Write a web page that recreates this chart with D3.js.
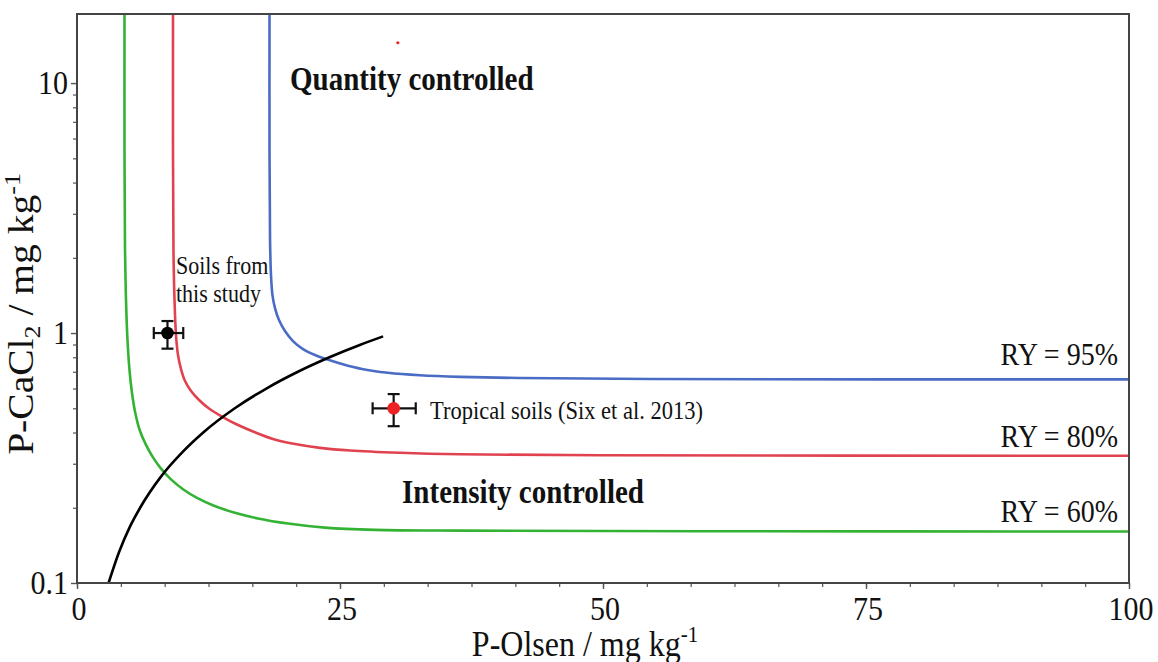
<!DOCTYPE html>
<html><head><meta charset="utf-8">
<script src="https://cdn.jsdelivr.net/npm/d3@7"></script>
<style>html,body{margin:0;padding:0;background:#fff;} svg{display:block;}</style>
</head><body>
<svg id="chart" width="1158" height="662"></svg>
<script>
// ---------- data ----------
const xTicks = [0, 25, 50, 75, 100];
const xTickLabels = ["0", "25", "50", "75", "100"];
const yTicks = [0.1, 1, 10];
const yTickLabels = ["0.1", "1", "10"];

// RY iso-lines: [P-Olsen, P-CaCl2]
const ry95 = [[18.3,18.9],[18.3,5.395],[18.35,2.355],[18.44,1.706],[18.58,1.419],[18.82,1.259],[19.2,1.127],[19.77,1.019],[20.53,0.929],[21.48,0.863],[22.62,0.817],[23.67,0.787],[25.19,0.7516],[27.09,0.7178],[29.56,0.6932],[32.6,0.6775],[36.41,0.6676],[42.1,0.6607],[54.47,0.6546],[100,0.6528]];
const ry80 = [[9.125,18.9],[9.125,5.395],[9.17,2.148],[9.27,1.355],[9.41,0.982],[9.60,0.817],[9.886,0.7178],[10.27,0.6427],[10.84,0.5861],[11.6,0.5395],[12.55,0.4989],[13.78,0.4634],[15.11,0.4325],[16.73,0.4036],[18.63,0.3767],[20.72,0.3597],[23.1,0.3473],[25.95,0.3388],[30.7,0.3318],[36.41,0.3272],[49.7,0.3242],[100,0.3230]];
const ry60 = [[4.515,18.9],[4.515,5.395],[4.563,2.148],[4.658,1.355],[4.800,0.9376],[4.990,0.7112],[5.228,0.5754],[5.561,0.4742],[5.989,0.4055],[6.559,0.3571],[7.224,0.3180],[7.985,0.2869],[8.935,0.2597],[10.076,0.2372],[11.407,0.2190],[13.023,0.2038],[14.924,0.1914],[17.205,0.1813],[20.057,0.1730],[23.574,0.1666],[28.327,0.1632],[36.407,0.1620],[59.221,0.1611],[100,0.1607]];
const boundary = [[3,0.1],[4,0.133],[5,0.167],[6,0.2],[8,0.267],[10,0.333],[12,0.4],[15,0.5],[18,0.6],[21,0.7],[24,0.8],[27,0.9],[29.1,0.97]];

const seriesNames = ["RY = 95%", "RY = 80%", "RY = 60%"];
const seriesColors = ["#4a6cc4", "#e0434f", "#33b233"];
const seriesData = [ry95, ry80, ry60];
const seriesLabelPos = [[98.95, 0.745], [98.95, 0.35], [98.95, 0.175]];

// points with error bars
const pointNames = ["Soils from this study", "Tropical soils (Six et al. 2013)"];
const pointX = [8.6, 30.1];
const pointY = [1.0, 0.50];
const pointXLow = [7.3, 28.1];
const pointXHigh = [10.1, 32.2];
const pointYLow = [0.866, 0.424];
const pointYHigh = [1.117, 0.570];
const pointColors = ["#000000", "#ee2222"];
const strayDot = [30.5, 14.5];

// annotations [text, x, y(baseline)]
const regionLabels = [["Quantity controlled", 20.25, 9.38], ["Intensity controlled", 30.9, 0.209]];
const noteLabels = [["Soils from", 9.41, 1.72], ["this study", 9.41, 1.33], ["Tropical soils (Six et al. 2013)", 33.56, 0.453]];

// ---------- drawing ----------
const L = 77, R = 1129, T = 14, B = 583;
const S = 1.13; // vertical stretch of the glyphs
const FONT = "'Liberation Serif','Times New Roman',serif";

const svg = d3.select("#chart");
const x = d3.scaleLinear().domain([0, 100]).range([L, R]);
const y = d3.scaleLog().domain([0.1, 18.9]).range([B, T]);

svg.append("defs").append("clipPath").attr("id", "clip")
  .append("rect").attr("x", L).attr("y", T).attr("width", R - L).attr("height", B - T);

function sText(px, py, str, size, opts = {}) {
  const g = svg.append("g").attr("transform", `translate(${px},${py}) scale(1,${S})${opts.rotate ? " rotate(-90)" : ""}`);
  const t = g.append("text")
    .attr("font-family", FONT)
    .attr("font-size", size)
    .attr("font-weight", opts.bold ? "bold" : "normal")
    .attr("text-anchor", opts.anchor || "start")
    .attr("fill", "#111");
  if (str !== null) t.text(str);
  return t;
}

// axes ticks
const xMinor = d3.range(0, 100.001, 25 / 6);
svg.append("g").attr("transform", `translate(0,${B})`)
  .call(d3.axisBottom(x).tickValues(xMinor).tickSize(4).tickFormat(""))
  .call(g => { g.select(".domain").remove(); g.selectAll("line").attr("stroke", "#555").attr("stroke-width", 1.2); });
svg.append("g").attr("transform", `translate(0,${B})`)
  .call(d3.axisBottom(x).tickValues(xTicks).tickSize(6).tickFormat(""))
  .call(g => { g.select(".domain").remove(); g.selectAll("line").attr("stroke", "#555").attr("stroke-width", 1.4); });

const yMinor = y.ticks().filter(v => yTicks.indexOf(v) < 0);
svg.append("g").attr("transform", `translate(${L},0)`)
  .call(d3.axisLeft(y).tickValues(yMinor).tickSize(4).tickFormat(""))
  .call(g => { g.select(".domain").remove(); g.selectAll("line").attr("stroke", "#555").attr("stroke-width", 1.2); });
svg.append("g").attr("transform", `translate(${L},0)`)
  .call(d3.axisLeft(y).tickValues(yTicks).tickSize(6).tickFormat(""))
  .call(g => { g.select(".domain").remove(); g.selectAll("line").attr("stroke", "#555").attr("stroke-width", 1.4); });

// tick labels
xTicks.forEach((v, i) => sText(x(v) + 2, B + 37, xTickLabels[i], 30, { anchor: "middle" }));
yTicks.forEach((v, i) => sText(L - 9, y(v) + 11, yTickLabels[i], 30, { anchor: "end" }));

// axis titles
const xt = sText(585, 656, null, 32, { anchor: "middle" });
xt.append("tspan").text("P-Olsen / mg kg");
xt.append("tspan").attr("font-size", 21).attr("dy", -12).text("-1");

const yt = sText(33, 314, null, 35, { anchor: "middle", rotate: true });
yt.append("tspan").text("P-CaCl");
yt.append("tspan").attr("font-size", 23).attr("dy", 7).text("2");
yt.append("tspan").attr("dy", -7).text(" / mg kg");
yt.append("tspan").attr("font-size", 23).attr("dy", -13).text("-1");

// curves
const plot = svg.append("g").attr("clip-path", "url(#clip)");
const line = d3.line().x(d => x(d[0])).y(d => y(d[1])).curve(d3.curveCatmullRom.alpha(0.5));
seriesData.forEach((d, i) => {
  plot.append("path").attr("d", line(d)).attr("fill", "none")
    .attr("stroke", seriesColors[i]).attr("stroke-width", 2.6);
});
plot.append("path").attr("d", d3.line().x(d => x(d[0])).y(d => y(d[1])).curve(d3.curveMonotoneX)(boundary))
  .attr("fill", "none").attr("stroke", "#000").attr("stroke-width", 2.6);

// error bars and points
pointX.forEach((px, i) => {
  const g = plot.append("g").attr("stroke", "#111").attr("stroke-width", 2.2);
  const cx = x(px), cy = y(pointY[i]);
  const xl = x(pointXLow[i]), xh = x(pointXHigh[i]);
  const yl = y(pointYLow[i]), yh = y(pointYHigh[i]);
  g.append("line").attr("x1", xl).attr("x2", xh).attr("y1", cy).attr("y2", cy);
  g.append("line").attr("x1", cx).attr("x2", cx).attr("y1", yl).attr("y2", yh);
  g.append("line").attr("x1", xl).attr("x2", xl).attr("y1", cy - 6).attr("y2", cy + 6);
  g.append("line").attr("x1", xh).attr("x2", xh).attr("y1", cy - 6).attr("y2", cy + 6);
  g.append("line").attr("x1", cx - 6).attr("x2", cx + 6).attr("y1", yl).attr("y2", yl);
  g.append("line").attr("x1", cx - 6).attr("x2", cx + 6).attr("y1", yh).attr("y2", yh);
  plot.append("circle").attr("cx", cx).attr("cy", cy).attr("r", 6.3).attr("fill", pointColors[i]);
});
plot.append("circle").attr("cx", x(strayDot[0])).attr("cy", y(strayDot[1])).attr("r", 1.6).attr("fill", "#ee2222");

// frame
svg.append("rect").attr("x", L).attr("y", T).attr("width", R - L).attr("height", B - T)
  .attr("fill", "none").attr("stroke", "#444").attr("stroke-width", 2);

// labels
seriesNames.forEach((n, i) => sText(x(seriesLabelPos[i][0]), y(seriesLabelPos[i][1]), n, 28, { anchor: "end" }));
regionLabels.forEach(d => sText(x(d[1]), y(d[2]), d[0], 29, { bold: true }));
noteLabels.forEach((d, i) => sText(x(d[1]), y(d[2]), d[0], i < 2 ? 22 : 22.5));
</script>
</body></html>
